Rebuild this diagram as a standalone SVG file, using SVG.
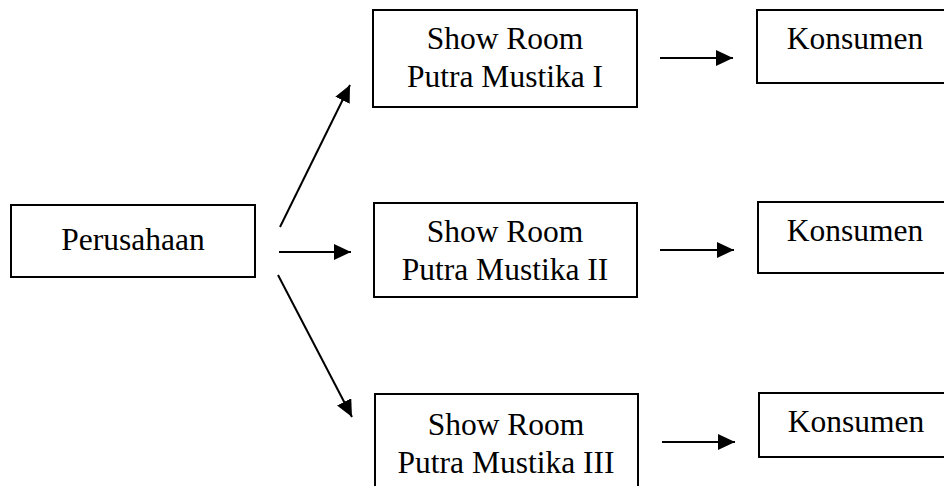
<svg xmlns="http://www.w3.org/2000/svg" width="944" height="486" viewBox="0 0 944 486">
<style>
.box{fill:#fff;stroke:#000;stroke-width:2}
.t{font-family:"Liberation Serif","Times New Roman",serif;font-size:31.5px;fill:#000;text-anchor:middle}
.c{stroke:#000;stroke-width:2;fill:none;marker-end:url(#ah)}
</style>
<defs>
<marker id="ah" markerUnits="userSpaceOnUse" markerWidth="18" markerHeight="17" refX="17" refY="8" orient="auto">
<path d="M0,0 L17,8 L0,16 z" fill="#000"/>
</marker>
</defs>
<rect width="944" height="486" fill="#fff"/>
<g id="perusahaan">
<rect class="box" x="11" y="205" width="244" height="72"/>
<text class="t" x="133" y="250">Perusahaan</text>
</g>
<g id="showroom1">
<rect class="box" x="373" y="10" width="264" height="97"/>
<text class="t" x="505" y="49">Show Room</text>
<text class="t" x="505" y="87">Putra Mustika I</text>
</g>
<g id="showroom2">
<rect class="box" x="374" y="203" width="263" height="94"/>
<text class="t" x="505" y="242">Show Room</text>
<text class="t" x="505" y="280">Putra Mustika II</text>
</g>
<g id="showroom3">
<rect class="box" x="375" y="394" width="263" height="110"/>
<text class="t" x="506" y="435">Show Room</text>
<text class="t" x="506" y="473">Putra Mustika III</text>
</g>
<g id="konsumen1">
<rect class="box" x="757" y="10" width="200" height="73"/>
<text class="t" x="855" y="49">Konsumen</text>
</g>
<g id="konsumen2">
<rect class="box" x="758" y="202" width="200" height="71"/>
<text class="t" x="855" y="241">Konsumen</text>
</g>
<g id="konsumen3">
<rect class="box" x="759" y="393" width="200" height="64"/>
<text class="t" x="856" y="432">Konsumen</text>
</g>
<g id="connectors">
<line class="c" x1="280" y1="227" x2="350" y2="85"/>
<line class="c" x1="279" y1="252" x2="351" y2="252"/>
<line class="c" x1="278" y1="275" x2="352" y2="417"/>
<line class="c" x1="660" y1="58" x2="733" y2="58"/>
<line class="c" x1="660" y1="250" x2="734" y2="250"/>
<line class="c" x1="662" y1="442" x2="735" y2="442"/>
</g>
</svg>
